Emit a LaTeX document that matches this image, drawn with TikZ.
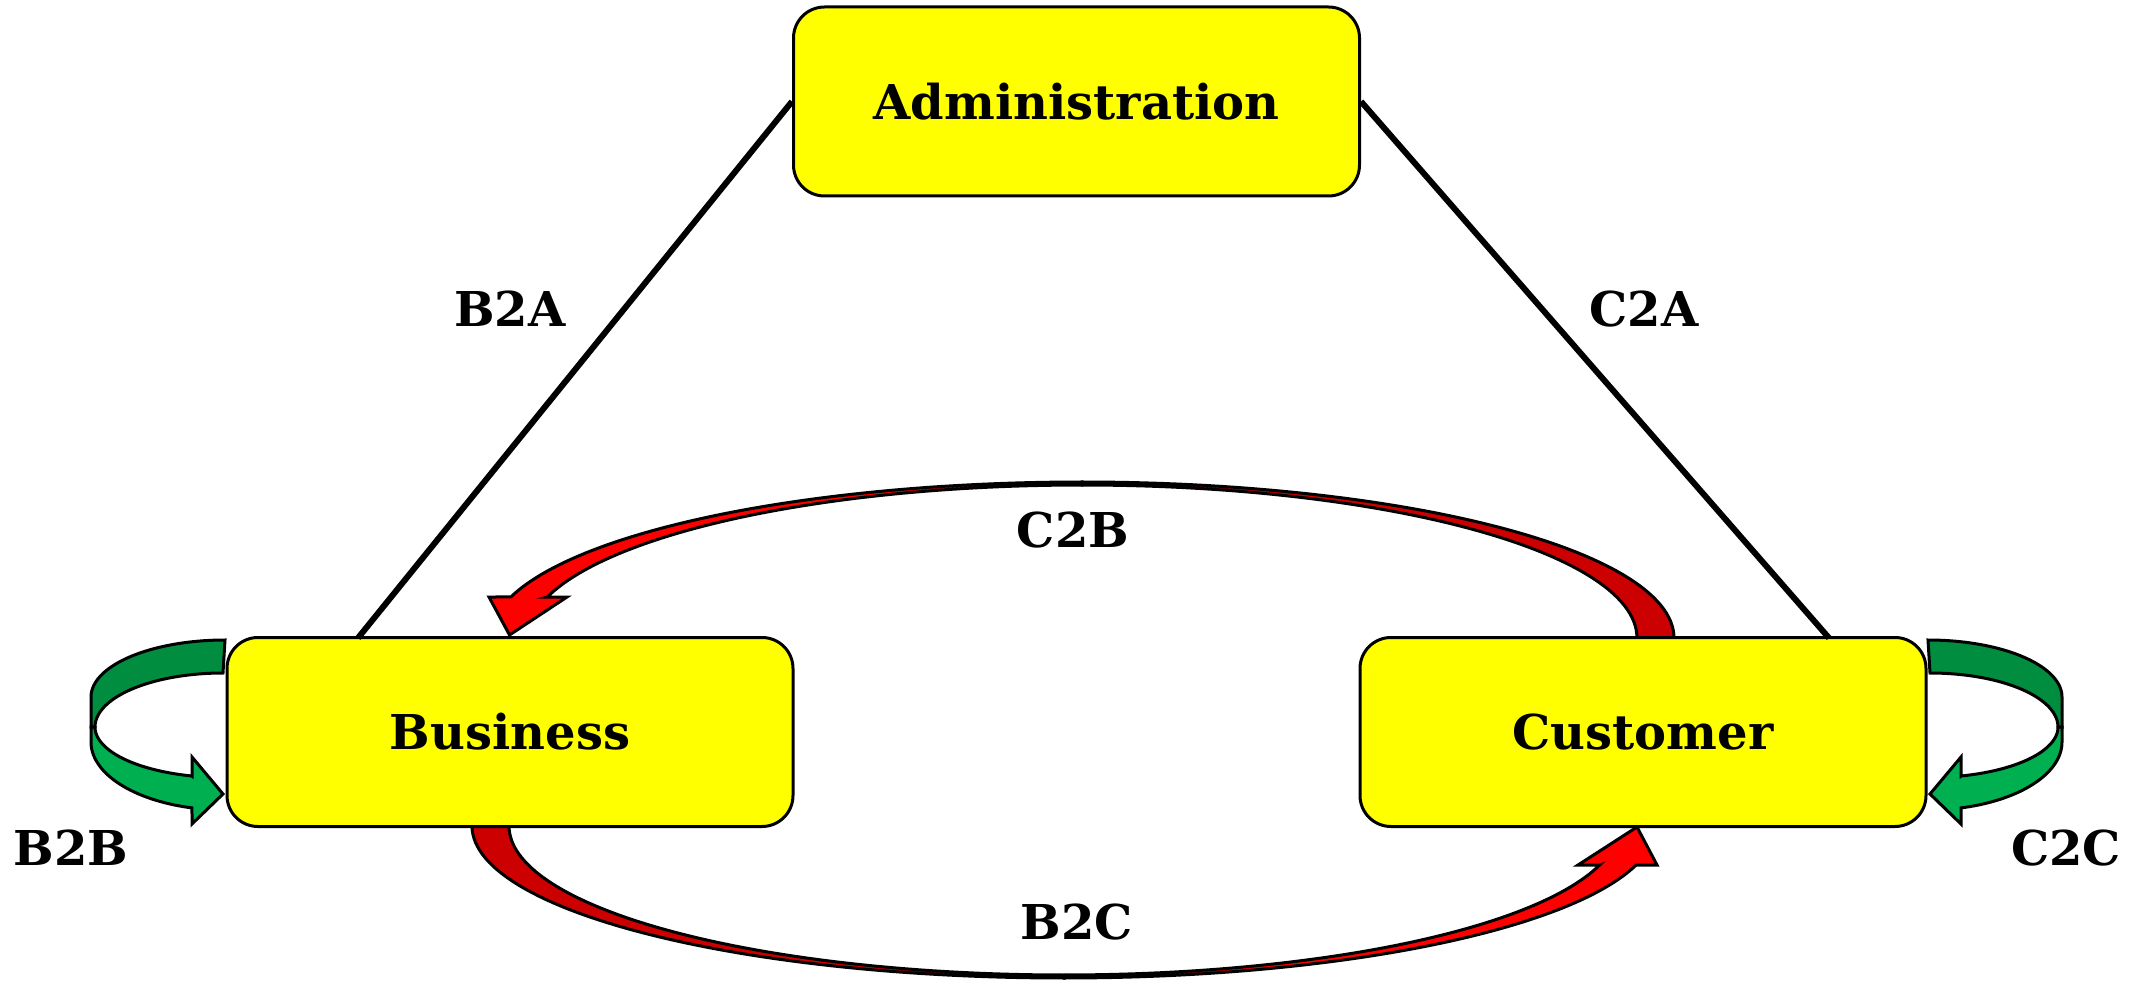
\documentclass[tikz,border=0pt]{standalone}
\usepackage{fontspec}
\setmainfont{DejaVu Serif}
\definecolor{boxyellow}{HTML}{FFFF00}
\definecolor{arrred}{HTML}{FF0000}
\definecolor{arrdarkred}{HTML}{CC0000}
\definecolor{arrgreen}{HTML}{00B050}
\definecolor{arrdarkgreen}{HTML}{008D40}
\newcommand{\greenloop}{%
  % back (dark) part
  \filldraw[ribbon, fill=arrdarkgreen]
    plot[domain=-90:-180, samples=40] ({225+134*cos(\x)},{697+57*sin(\x)})
    -- (91,727) -- (95,727)
    -- plot[domain=-180:-90, samples=40] ({223+128*cos(\x)},{727+54*sin(\x)})
    -- cycle;
  % front (bright) part with head
  \filldraw[ribbon, fill=arrgreen]
    (91,727) -- (91,742)
    -- plot[domain=180:104.26, samples=40] ({225+134*cos(\x)},{742+68*sin(\x)})
    -- (192,824) -- (223,794) -- (192,757) -- (192,776)
    -- plot[domain=104.02:180, samples=40] ({223+128*cos(\x)},{727+50.5*sin(\x)})
    -- cycle;
}
\begin{document}
\begin{tikzpicture}[x=1pt,y=-1pt,
  box/.style={draw=black, line width=3pt, fill=boxyellow, rounded corners=31pt,
    minimum width=566pt, minimum height=189pt, inner sep=0pt,
    font=\bfseries\fontsize{48}{56}\selectfont},
  lbl/.style={font=\bfseries\fontsize{48}{56}\selectfont, inner sep=0pt},
  conn/.style={draw=black, line width=6pt},
  ribbon/.style={draw=black, line width=3pt, line join=miter}
]
\useasboundingbox (0,0) rectangle (2148,981);

% curved red arrows (behind the boxes)
% C2B: from Customer to Business (over the top)
\filldraw[ribbon, fill=arrdarkred]
  plot[domain=0:-90, samples=60] ({1082+592*cos(\x)},{638+156*sin(\x)})
  -- plot[domain=-90:0, samples=60] ({1082+555*cos(\x)},{638+153*sin(\x)})
  -- cycle;
\filldraw[ribbon, fill=arrred]
  plot[domain=-90:-164.76, samples=60] ({1082+592*cos(\x)},{638+156*sin(\x)})
  -- (489,597) -- (509.5,635) -- (567,597) -- (547.3,597)
  -- plot[domain=-164.45:-90, samples=60] ({1082+555*cos(\x)},{638+153*sin(\x)})
  -- cycle;

% B2C: from Business to Customer (under the bottom)
\filldraw[ribbon, fill=arrdarkred]
  plot[domain=180:90, samples=60] ({1064+592*cos(\x)},{826+152*sin(\x)})
  -- plot[domain=90:180, samples=60] ({1064+555*cos(\x)},{826+149*sin(\x)})
  -- cycle;
\filldraw[ribbon, fill=arrred]
  plot[domain=90:14.87, samples=60] ({1064+592*cos(\x)},{826+152*sin(\x)})
  -- (1657,865) -- (1637,827) -- (1578,865) -- (1599.6,865)
  -- plot[domain=15.17:90, samples=60] ({1064+555*cos(\x)},{826+149*sin(\x)})
  -- cycle;

% green self loops
\greenloop
\begin{scope}[xshift=2153pt, xscale=-1]
  \greenloop
\end{scope}

% boxes
\node[box] (adm) at (1076.5,101.5) {Administration};
\node[box] (bus) at (510,732) {Business};
\node[box] (cus) at (1643,732) {Customer};

% connectors
\coordinate (busA) at (358,638);
\coordinate (cusA) at (1829,638);
\draw[conn] (adm.west) -- (busA);
\draw[conn] (adm.east) -- (cusA);

% labels
\node[lbl] (lB2A) at (510,309) {B2A};
\node[lbl] (lC2A) at (1644,309) {C2A};
\node[lbl] (lC2B) at (1073,530) {C2B};
\node[lbl] (lB2C) at (1077,922) {B2C};
\node[lbl] (lB2B) at (71,848) {B2B};
\node[lbl] (lC2C) at (2066,848) {C2C};
\end{tikzpicture}
\end{document}
